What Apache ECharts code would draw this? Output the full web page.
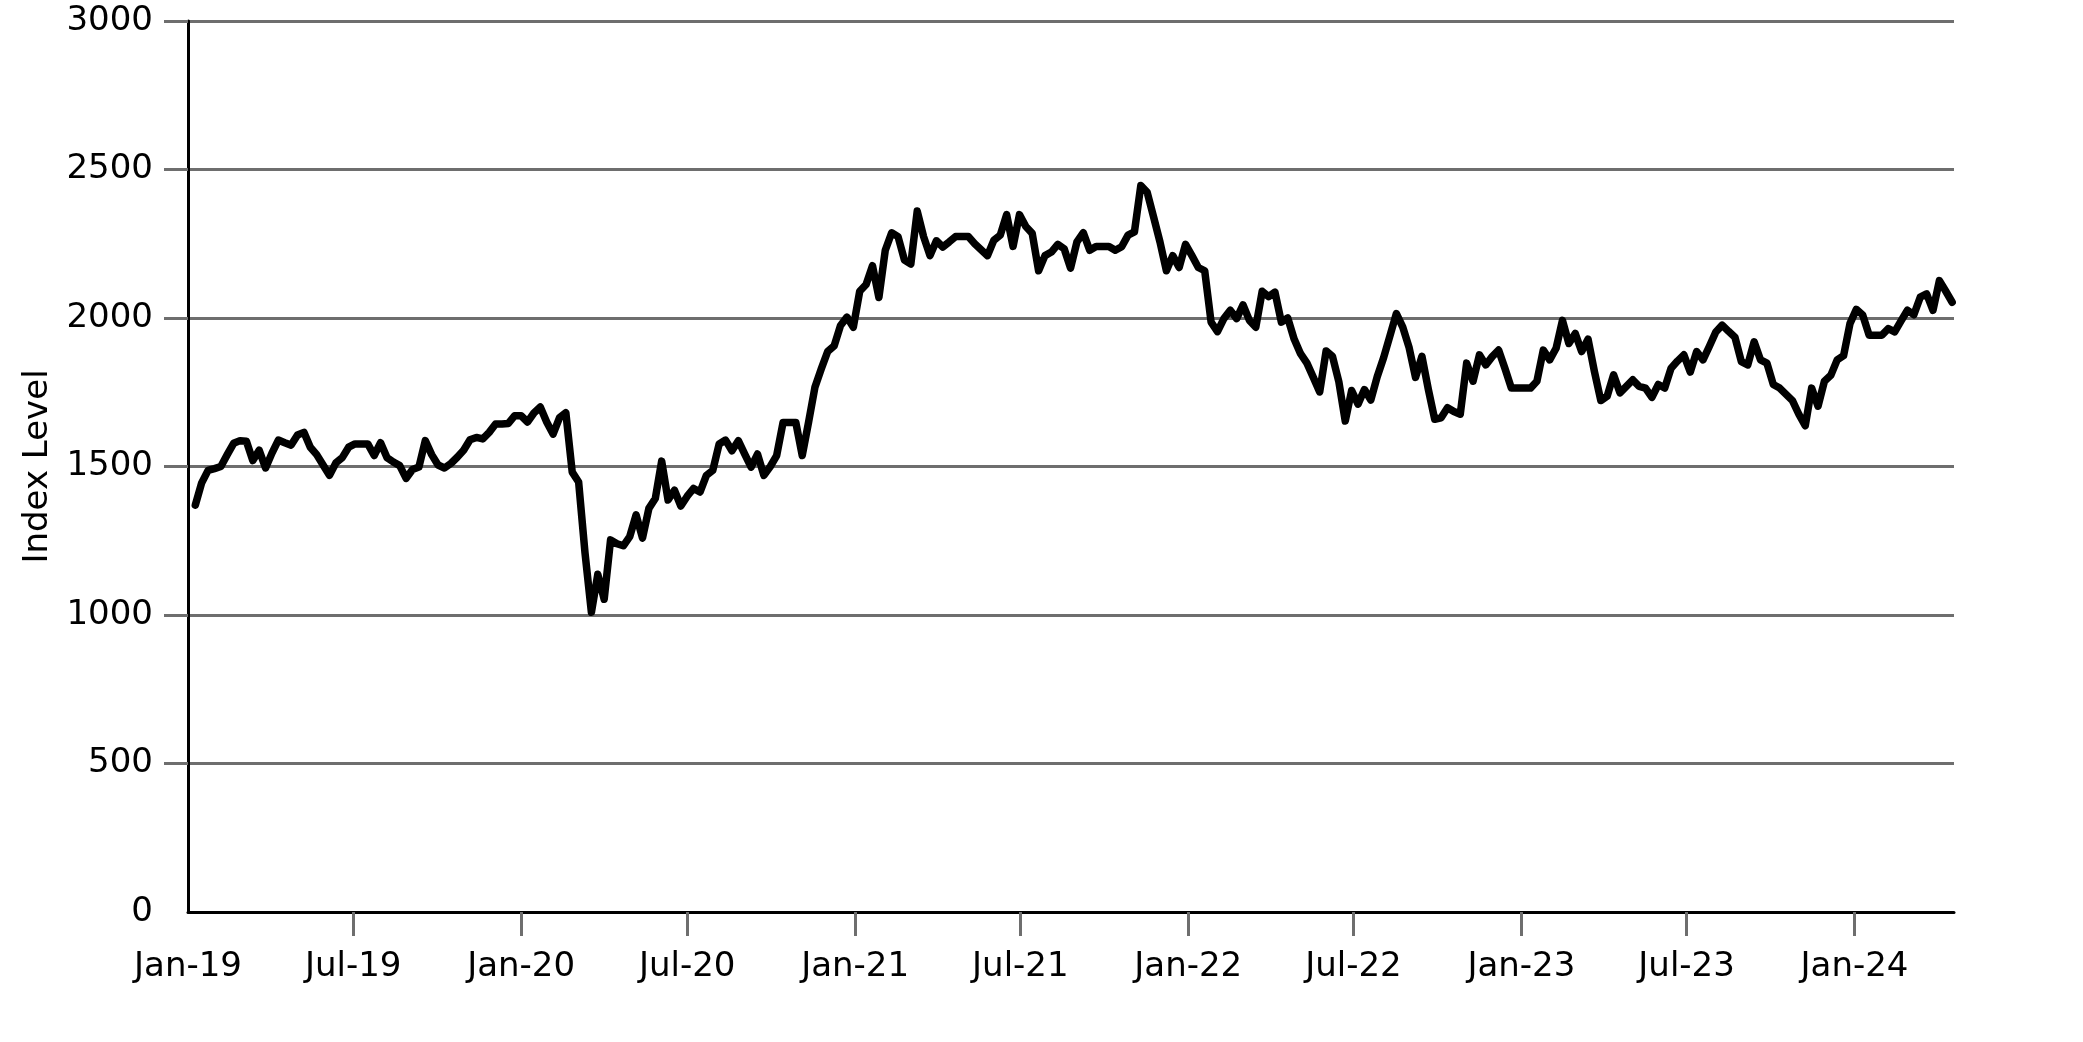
<!DOCTYPE html>
<html>
<head>
<meta charset="utf-8">
<title>Index Level</title>
<script src="https://cdn.jsdelivr.net/npm/echarts@6/dist/echarts.min.js"></script>
<style>
  html, body { margin: 0; padding: 0; background: #fff; }
  #chart { width: 2083px; height: 1042px; }
</style>
</head>
<body>
<div id="chart"></div>
<script>
// weekly observations, first one on this date
var firstDate = '2019-01-09';
var stepDays = 7;

// index level, one value per week
var indexLevels = [
  1370, 1445, 1487, 1493, 1500, 1540, 1578, 1587, 1585, 1520,
  1555, 1495, 1545, 1589, 1580, 1572, 1606, 1615, 1565, 1540,
  1505, 1470, 1512, 1530, 1565, 1576, 1576, 1576, 1537, 1580,
  1530, 1515, 1503, 1460, 1490, 1498, 1587, 1540, 1505, 1495,
  1510, 1531, 1555, 1590, 1598, 1593, 1615, 1643, 1643, 1645,
  1671, 1671, 1650, 1680, 1700, 1650, 1609, 1664, 1681, 1481,
  1448, 1209, 1009, 1137, 1053, 1253, 1240, 1233, 1264, 1337,
  1259, 1359, 1392, 1518, 1387, 1420, 1367, 1400, 1426, 1414,
  1470, 1487, 1576, 1589, 1553, 1587, 1542, 1498, 1542, 1470,
  1500, 1537, 1648, 1648, 1648, 1537, 1650, 1768, 1830, 1888,
  1906, 1975, 2003, 1969, 2090, 2113, 2176, 2069, 2228, 2287,
  2274, 2195, 2182, 2360, 2274, 2210, 2260, 2239, 2256, 2274,
  2274, 2274, 2250, 2230, 2210, 2262, 2279, 2348, 2241, 2348,
  2308, 2285, 2159, 2210, 2222, 2248, 2233, 2168, 2256, 2287,
  2228, 2241, 2241, 2241, 2228, 2240, 2279, 2290, 2446, 2423,
  2340, 2256, 2159, 2210, 2170, 2248, 2210, 2170, 2159, 1986,
  1954, 1998, 2026, 1998, 2044, 1992, 1969, 2090, 2072, 2087,
  1986, 2000, 1929, 1880, 1848, 1800, 1751, 1889, 1871, 1785,
  1653, 1756, 1710, 1759, 1724, 1802, 1866, 1940, 2015, 1969,
  1900, 1800, 1871, 1760, 1659, 1664, 1698, 1685, 1676, 1848,
  1787, 1876, 1842, 1870, 1892, 1830, 1764, 1764, 1764, 1764,
  1787, 1892, 1859, 1898, 1992, 1914, 1948, 1887, 1929, 1820,
  1722, 1737, 1809, 1748, 1770, 1792, 1770, 1764, 1733, 1776,
  1764, 1831, 1855, 1876, 1818, 1887, 1859, 1905, 1953, 1976,
  1955, 1935, 1853, 1842, 1920, 1859, 1848, 1776, 1764, 1743,
  1722, 1676, 1637, 1764, 1703, 1787, 1807, 1859, 1873, 1981,
  2029, 2010, 1942, 1942, 1942, 1964, 1953, 1990, 2026, 2011,
  2070, 2081, 2026, 2126, 2090, 2053
];

// x axis labels (every six months)
var tickDates = ['2019-01-01', '2019-07-01', '2020-01-01', '2020-07-01', '2021-01-01', '2021-07-01',
                 '2022-01-01', '2022-07-01', '2023-01-01', '2023-07-01', '2024-01-01'];
var tickLabels = ['Jan-19', 'Jul-19', 'Jan-20', 'Jul-20', 'Jan-21', 'Jul-21',
                  'Jan-22', 'Jul-22', 'Jan-23', 'Jul-23', 'Jan-24'];
var axisStart = '2019-01-01';
var axisEnd = '2024-04-19';

// y axis
var yTicks = [500, 1000, 1500, 2000, 2500, 3000];

function toMs(s) {
  var p = s.split('-');
  return Date.UTC(+p[0], +p[1] - 1, +p[2]);
}

var dayMs = 86400000;
var t0 = toMs(firstDate);
var seriesData = indexLevels.map(function (v, i) {
  return [t0 + i * stepDays * dayMs, v];
});

var tickMs = tickDates.map(toMs);
var labelByMs = {};
tickMs.forEach(function (t, i) { labelByMs[t] = tickLabels[i]; });

var font = 'DejaVu Sans';
var gridGray = '#6e6e6e';

var myChart = echarts.init(document.getElementById('chart'));
myChart.setOption({
  animation: false,
  grid: { left: 188, right: 129, top: 21, bottom: 130 },
  xAxis: {
    type: 'value',
    min: toMs(axisStart),
    max: toMs(axisEnd),
    axisLine: { show: true, lineStyle: { color: '#000', width: 3 } },
    axisTick: {
      show: true,
      customValues: tickMs.slice(1),
      length: 24,
      lineStyle: { color: gridGray, width: 3 }
    },
    axisLabel: {
      customValues: tickMs,
      margin: 38,
      fontFamily: font,
      fontSize: 34,
      color: '#000',
      formatter: function (v) { return labelByMs[v] || ''; }
    },
    splitLine: { show: false }
  },
  yAxis: {
    type: 'value',
    min: 0,
    max: 3000,
    interval: 500,
    name: 'Index Level',
    nameLocation: 'middle',
    nameGap: 110,
    nameTextStyle: { fontFamily: font, fontSize: 34, color: '#000' },
    axisLine: { show: true, lineStyle: { color: '#000', width: 3 } },
    axisTick: {
      show: true,
      customValues: yTicks,
      length: 24,
      lineStyle: { color: gridGray, width: 3 }
    },
    axisLabel: {
      margin: 35,
      fontFamily: font,
      fontSize: 34,
      color: '#000',
      formatter: function (v) { return String(v); }
    },
    splitLine: { show: true, lineStyle: { color: gridGray, width: 3 } }
  },
  series: [{
    type: 'line',
    data: seriesData,
    showSymbol: false,
    symbol: 'none',
    lineStyle: { color: '#000', width: 7.5, join: 'round', cap: 'round' }
  }]
});
</script>
</body>
</html>
